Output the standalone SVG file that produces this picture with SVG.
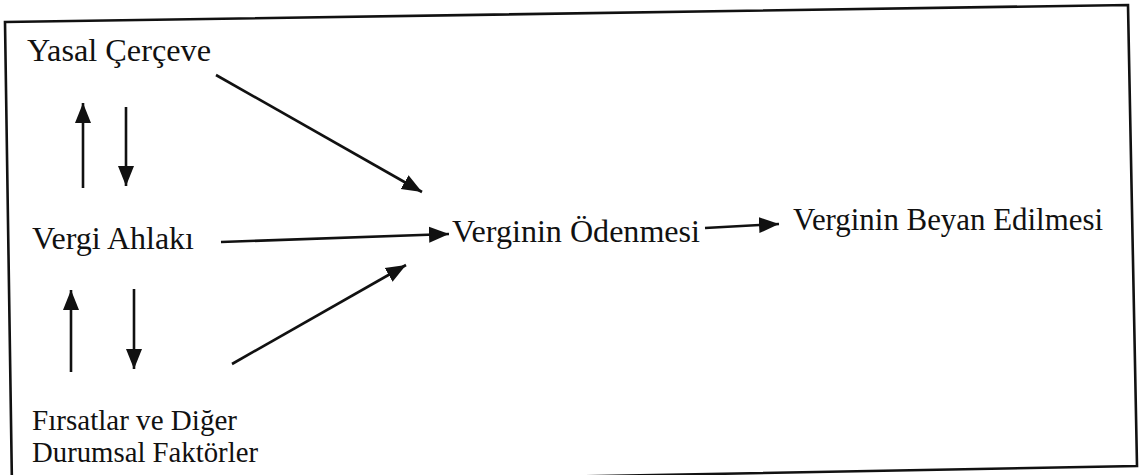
<svg xmlns="http://www.w3.org/2000/svg" width="1148" height="475" viewBox="0 0 1148 475">
<style>
.t{font-family:"Liberation Serif","Times New Roman",serif;font-size:32px;fill:#111}
.s{font-size:28.5px}
.c{stroke:#111;stroke-width:2.6;fill:none;marker-end:url(#ah)}
</style>
<defs>
<marker id="ah" markerUnits="userSpaceOnUse" markerWidth="22" markerHeight="18" refX="20" refY="9" orient="auto" viewBox="0 0 22 18">
<path d="M0,1 L20,9 L0,17 z" fill="#111"/>
</marker>
</defs>
<rect width="1148" height="475" fill="#fff"/>
<polygon id="frame" points="5,22 1128,5 1137,466 12,487" fill="none" stroke="#111" stroke-width="2.6"/>
<g id="connectors">
<line class="c" x1="216" y1="75" x2="422" y2="192"/>
<line class="c" x1="83" y1="188" x2="83" y2="103"/>
<line class="c" x1="126" y1="107" x2="126" y2="186"/>
<line class="c" x1="221" y1="242" x2="449" y2="234"/>
<line class="c" x1="232" y1="364" x2="406" y2="265"/>
<line class="c" x1="71" y1="372" x2="71" y2="290"/>
<line class="c" x1="134" y1="289" x2="134" y2="369"/>
<line class="c" x1="705" y1="228" x2="779" y2="224"/>
</g>
<g id="yasal"><text class="t" x="27" y="61" textLength="184" lengthAdjust="spacingAndGlyphs">Yasal Çerçeve</text></g>
<g id="ahlak"><text class="t" x="32" y="249" textLength="162" lengthAdjust="spacingAndGlyphs">Vergi Ahlakı</text></g>
<g id="firsat"><text class="t s" x="32" y="430" textLength="205" lengthAdjust="spacingAndGlyphs">Fırsatlar ve Diğer</text><text class="t s" x="32" y="462" textLength="226" lengthAdjust="spacingAndGlyphs">Durumsal Faktörler</text></g>
<g id="odenme"><text class="t" x="452" y="242" textLength="248" lengthAdjust="spacingAndGlyphs">Verginin Ödenmesi</text></g>
<g id="beyan"><text class="t" x="793" y="230" textLength="310" lengthAdjust="spacingAndGlyphs">Verginin Beyan Edilmesi</text></g>
</svg>
